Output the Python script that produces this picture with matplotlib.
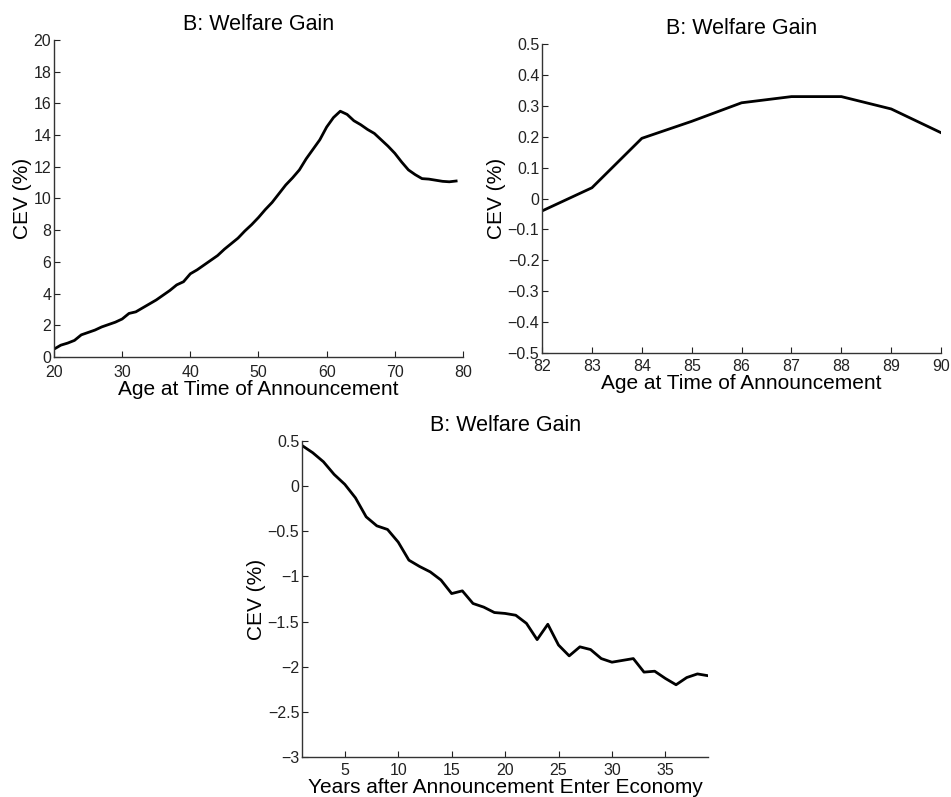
import matplotlib
matplotlib.use("Agg")
from matplotlib import pyplot as plt

# panel 1: age at announcement 20..79
age1 = list(range(20, 80))
cev1 = [0.5, 0.75, 0.88, 1.05, 1.4, 1.55, 1.7, 1.9, 2.05, 2.2,
        2.4, 2.75, 2.85, 3.1, 3.35, 3.6, 3.9, 4.2, 4.55, 4.75,
        5.25, 5.5, 5.8, 6.1, 6.4, 6.8, 7.15, 7.5, 7.95, 8.35,
        8.8, 9.3, 9.75, 10.3, 10.85, 11.3, 11.8, 12.5, 13.1, 13.7,
        14.5, 15.1, 15.5, 15.3, 14.9, 14.65, 14.35, 14.1, 13.7, 13.3,
        12.85, 12.3, 11.8, 11.5, 11.25, 11.22, 11.15, 11.08, 11.05, 11.1]

# panel 2: age at announcement 82..90
age2 = [82, 83, 84, 85, 86, 87, 88, 89, 90]
cev2 = [-0.04, 0.035, 0.195, 0.25, 0.31, 0.33, 0.33, 0.29, 0.213]

# panel 3: years after announcement 1..39
yrs3 = list(range(1, 40))
cev3 = [0.45, 0.37, 0.27, 0.13, 0.02, -0.13, -0.34, -0.44, -0.48, -0.62,
        -0.82, -0.89, -0.95, -1.04, -1.19, -1.16, -1.30, -1.34, -1.40, -1.41,
        -1.43, -1.52, -1.70, -1.53, -1.76, -1.88, -1.78, -1.81, -1.91, -1.95,
        -1.93, -1.91, -2.06, -2.05, -2.13, -2.20, -2.12, -2.08, -2.10]

plt.rcParams['font.family'] = ['Liberation Sans', 'DejaVu Sans']

fig = plt.figure(figsize=(9.51, 7.97), dpi=100)


def style(ax):
    ax.spines['top'].set_visible(False)
    ax.spines['right'].set_visible(False)
    for s in ['left', 'bottom']:
        ax.spines[s].set_color('#333333')
        ax.spines[s].set_linewidth(1.0)
    ax.tick_params(direction='in', length=4, width=0.8, labelsize=11.5,
                   colors='#222222', pad=2)
    ax.tick_params(axis='x', pad=4)
    ax.set_title('B: Welfare Gain', fontsize=15.5, pad=7)
    ax.set_ylabel('CEV (%)', fontsize=15, labelpad=1)


ax1 = fig.add_axes([0.0568, 0.552, 0.430, 0.398])
ax1.plot(age1, cev1, color='black', lw=2)
ax1.set_xlim(20, 80)
ax1.set_ylim(0, 20)
ax1.set_xticks(range(20, 81, 10))
ax1.set_yticks(range(0, 21, 2))
style(ax1)
ax1.tick_params(axis='x', pad=5.5)
ax1.set_xlabel('Age at Time of Announcement', fontsize=15, labelpad=0)

ax2 = fig.add_axes([0.570, 0.557, 0.4196, 0.3877])
ax2.plot(age2, cev2, color='black', lw=2)
ax2.set_xlim(82, 90)
ax2.set_ylim(-0.5, 0.5)
ax2.set_xticks(range(82, 91))
ax2.set_yticks([-0.5, -0.4, -0.3, -0.2, -0.1, 0, 0.1, 0.2, 0.3, 0.4, 0.5])
ax2.set_yticklabels(['\u22120.5', '\u22120.4', '\u22120.3', '\u22120.2', '\u22120.1',
                     '0', '0.1', '0.2', '0.3', '0.4', '0.5'])
style(ax2)
ax2.set_xlabel('Age at Time of Announcement', fontsize=15, labelpad=0)

ax3 = fig.add_axes([0.3176, 0.0502, 0.427, 0.3965])
ax3.plot(yrs3, cev3, color='black', lw=2)
ax3.set_xlim(1, 39)
ax3.set_ylim(-3, 0.5)
ax3.set_xticks(range(5, 40, 5))
ax3.set_yticks([-3, -2.5, -2, -1.5, -1, -0.5, 0, 0.5])
ax3.set_yticklabels(['\u22123', '\u22122.5', '\u22122', '\u22121.5', '\u22121',
                     '\u22120.5', '0', '0.5'])
style(ax3)
ax3.set_xlabel('Years after Announcement Enter Economy', fontsize=15, labelpad=0)

fig.savefig('out.png', dpi=100)
